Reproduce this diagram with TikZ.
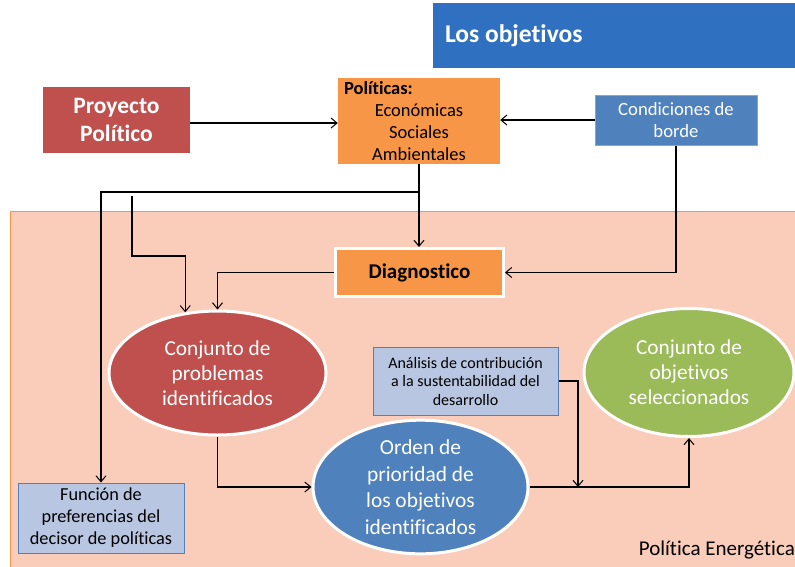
\documentclass[tikz,border=0pt]{standalone}
\usepackage{fontspec}
\setmainfont{Carlito}[RawFeature={-liga;-clig}]
\usetikzlibrary{arrows.meta,shapes.geometric,calc}
\definecolor{cred}{HTML}{C0504D}
\definecolor{corange}{HTML}{F79646}
\definecolor{cblue}{HTML}{4F81BD}
\definecolor{cgreen}{HTML}{9BBB59}
\definecolor{clight}{HTML}{B8C6E1}
\definecolor{ctitle}{HTML}{3070C0}
\definecolor{cpeach}{HTML}{F9CDB9}
\tikzset{
  conn/.style={draw=black, line width=1.1pt, -{Straight Barb[length=6pt,width=10pt,line width=1pt]}},
  boxbase/.style={rectangle, inner sep=0pt, align=center},
  redbox/.style={boxbase, fill=cred, text=white, font=\fontsize{23.5}{28}\selectfont\bfseries},
  orbox/.style={boxbase, fill=corange, text=black, font=\fontsize{18.5}{22}\selectfont},
  bluebox/.style={boxbase, fill=cblue, draw=cblue!70!white, line width=1pt, text=white, font=\fontsize{18.7}{22}\selectfont},
  diagbox/.style={boxbase, fill=corange, draw=white, line width=3pt, text=black, font=\fontsize{21}{24}\selectfont\bfseries},
  lightbox/.style={boxbase, fill=clight, draw=cblue, line width=1pt, text=black},
  ell/.style={ellipse, inner sep=0pt, draw=white, line width=3pt, text=white, align=center, font=\fontsize{21.3}{25}\selectfont},
}
\begin{document}
\begin{tikzpicture}[x=1pt,y=-1pt]
\useasboundingbox (0,0) rectangle (795,566);
% background region
\fill[cpeach] (10,211) rectangle (800,570);
\draw[corange, line width=1pt] (10,570) -- (10,211) -- (800,211);
% title
\node[boxbase, fill=ctitle, text=white, minimum width=362pt, minimum height=65pt, font=\fontsize{25.5}{30}\selectfont\bfseries] (title) at (614,35.5) {\makebox[338pt][l]{Los objetivos}};
% nodes
\node[redbox, minimum width=147pt, minimum height=66pt] (proy) at (116.5,120) {Proyecto\\Político};
\node[orbox, minimum width=162pt, minimum height=86pt, text width=150pt] (pol) at (419,121) {\makebox[150pt][l]{\textbf{Políticas:}}\\Económicas\\Sociales\\Ambientales};
\node[bluebox, minimum width=162pt, minimum height=50pt] (cond) at (676,120) {Condiciones de\\borde};
\node[diagbox, minimum width=168pt, minimum height=48pt] (diag) at (419.5,272.5) {Diagnostico};
\node[ell, fill=cred, minimum width=217pt, minimum height=124pt] (prob) at (217.5,373) {Conjunto de\\problemas\\identificados};
\node[ell, fill=cblue, minimum width=215pt, minimum height=124pt, font=\fontsize{21.4}{26.5}\selectfont] (ord) at (420.5,487) {Orden de\\prioridad de\\los objetivos\\identificados};
\node[ell, fill=cgreen, minimum width=210pt, minimum height=128pt] (obj) at (689,372.5) {Conjunto de\\objetivos\\seleccionados};
\node[lightbox, minimum width=185pt, minimum height=68pt, font=\fontsize{16}{18.5}\selectfont] (ana) at (465.5,381) {Análisis de contribución\\a la sustentabilidad del\\desarrollo};
\node[lightbox, minimum width=166pt, minimum height=70pt, font=\fontsize{18.3}{22}\selectfont] (func) at (101,518) {Función de\\preferencias del\\decisor de políticas};
\node[anchor=east, inner sep=0pt, font=\fontsize{21}{24}\selectfont] (pe) at (795,550) {Política Energética};
% connectors
\coordinate (py) at (0,123);
\draw[conn] (proy.east |- py) -- (pol.west |- py);
\draw[conn] (cond.west) -- (pol.east |- cond.west);
\draw[conn] (pol.south) -- (pol.south |- diag.north);
\coordinate (hy) at (0,192);
\draw[conn] (pol.south |- hy) -| (func.north);
\coordinate (s) at (132,196);
\coordinate (sy) at (0,256);
\draw[conn] (s) -- (s |- sy) -| (prob.118);
\draw[conn] (diag.west) -| (prob.north);
\draw[conn] (cond.south) |- (diag.east);
\draw[conn] (prob.south) |- (ord.west);
\draw[conn] (ord.east) -| (obj.south);
\coordinate (jx) at (578,0);
\draw[conn] (ana.east) -| (ord.east -| jx);
\end{tikzpicture}
\end{document}
